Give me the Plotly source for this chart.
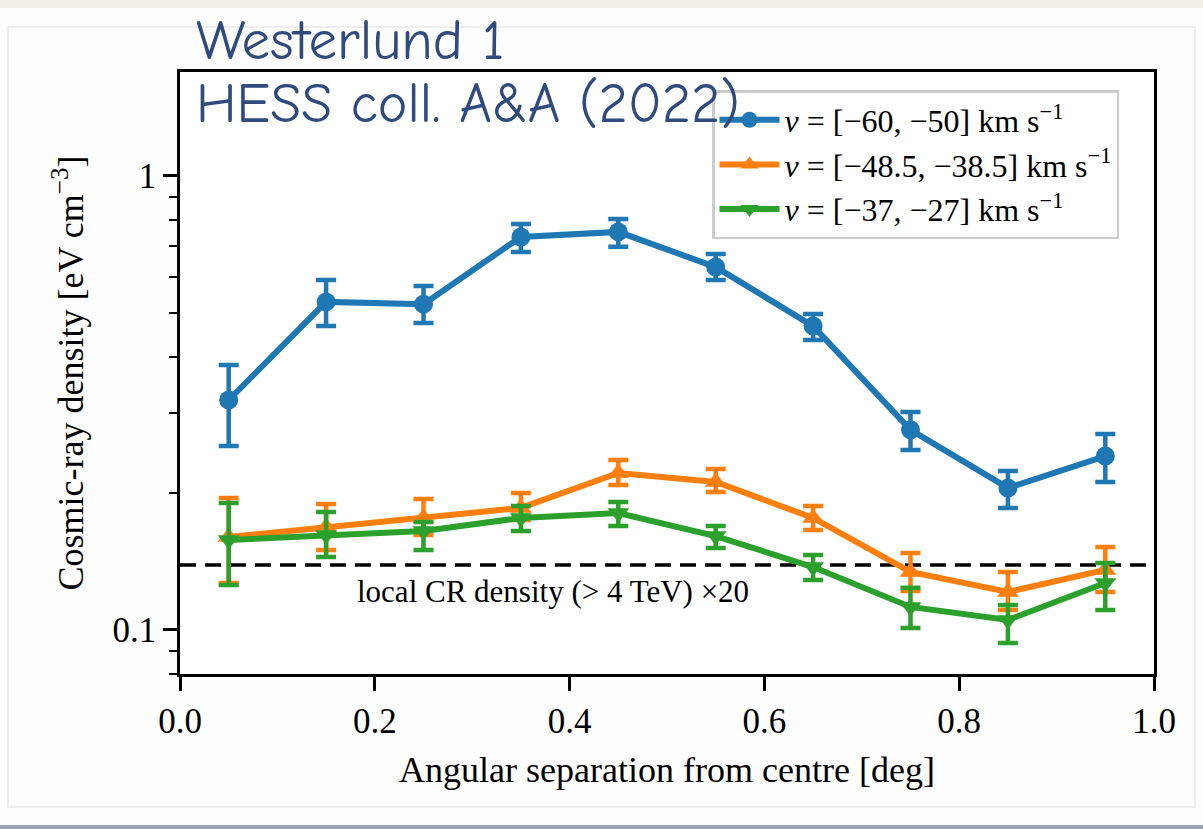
import math
import plotly.graph_objects as go

# Angular bins (deg) and cosmic-ray density per velocity interval
sep = [0.05, 0.15, 0.25, 0.35, 0.45, 0.55, 0.65, 0.75, 0.85, 0.95]

v1_label = "<i>ν</i> = [−60, −50] km s<sup>−1</sup>"
v1_val = [0.321, 0.528, 0.522, 0.734, 0.753, 0.630, 0.467, 0.276, 0.2055, 0.2416]
v1_hi = [0.3835, 0.590, 0.5725, 0.784, 0.804, 0.673, 0.4966, 0.302, 0.2239, 0.2702]
v1_lo = [0.2542, 0.4672, 0.4745, 0.680, 0.698, 0.590, 0.4352, 0.2491, 0.1857, 0.2118]

v2_label = "<i>ν</i> = [−48.5, −38.5] km s<sup>−1</sup>"
v2_val = [0.1602, 0.1686, 0.1765, 0.1857, 0.2217, 0.2118, 0.1765, 0.1342, 0.1213, 0.1356]
v2_hi = [0.1953, 0.1895, 0.1943, 0.2003, 0.2368, 0.2262, 0.1875, 0.1478, 0.1342, 0.1524]
v2_lo = [0.1269, 0.1501, 0.1619, 0.1747, 0.2087, 0.2014, 0.1661, 0.1219, 0.1107, 0.1213]

v3_label = "<i>ν</i> = [−37, −27] km s<sup>−1</sup>"
v3_val = [0.1578, 0.1619, 0.1652, 0.1765, 0.1810, 0.1610, 0.1376, 0.1124, 0.1052, 0.1269]
v3_hi = [0.1905, 0.1819, 0.1729, 0.1875, 0.1914, 0.1695, 0.1463, 0.1238, 0.1135, 0.1404]
v3_lo = [0.1256, 0.1448, 0.1501, 0.1652, 0.1695, 0.1516, 0.1288, 0.1010, 0.0936, 0.1107]

local_cr = 0.139
local_cr_text = "local CR density (> 4 TeV) ×20"
local_cr_text_pos = (0.383, 0.1213)

x_ticks = [0.0, 0.2, 0.4, 0.6, 0.8, 1.0]
x_tick_text = ["0.0", "0.2", "0.4", "0.6", "0.8", "1.0"]
y_ticks = [0.1, 1]
y_tick_text = ["0.1", "1"]
y_minor = [0.08, 0.09, 0.2, 0.3, 0.4, 0.5, 0.6, 0.7, 0.8, 0.9]

SERIF = "Liberation Serif"
HAND = "Comic Neue, Comic Sans MS, Lato, sans-serif"
INK = "#2f4a7c"

# plot-area geometry in pixels
L, R, T, B = 180, 1154, 72, 674
W, H = R - L, B - T


def px(x):
    return (x - L) / W


def py(y):
    return (B - y) / H


series = [
    (v1_label, v1_val, v1_hi, v1_lo, "#1f77b4", "circle", 19),
    (v2_label, v2_val, v2_hi, v2_lo, "#ff7f0e", "triangle-up", 19),
    (v3_label, v3_val, v3_hi, v3_lo, "#2ca02c", "triangle-down", 19),
]

fig = go.Figure()
for i, (name, val, hi, lo, color, symbol, msize) in enumerate(series):
    fig.add_trace(go.Scatter(
        x=sep, y=val, name=name, mode="lines+markers", legendgroup=f"g{i}",
        line=dict(color=color, width=6),
        marker=dict(color=color, symbol=symbol, size=msize, line=dict(width=0)),
        error_y=dict(
            type="data", symmetric=False,
            array=[h - v for h, v in zip(hi, val)],
            arrayminus=[v - l for v, l in zip(val, lo)],
            color=color, thickness=4.5, width=10,
        ),
    ))

# Reference level of the local cosmic-ray density
fig.add_shape(type="line", xref="x", yref="y", x0=0, x1=1,
              y0=local_cr, y1=local_cr,
              line=dict(color="black", width=3.5, dash="16px,9px"), layer="below")
fig.add_annotation(x=local_cr_text_pos[0], y=math.log10(local_cr_text_pos[1]),
                   xref="x", yref="y", text=local_cr_text, showarrow=False,
                   font=dict(family=SERIF, size=31, color="black"))

# Slide card behind the figure
fig.add_shape(type="rect", xref="paper", yref="paper",
              x0=px(8), x1=px(1195), y0=py(807), y1=py(27),
              line=dict(color="#e9e9e9", width=1.5), fillcolor="rgba(0,0,0,0)",
              layer="below")
fig.add_shape(type="rect", xref="paper", yref="paper",
              x0=px(0), x1=px(1203), y0=py(8), y1=py(-10),
              line=dict(width=0), fillcolor="#f3efe6", layer="below")
fig.add_shape(type="rect", xref="paper", yref="paper",
              x0=px(0), x1=px(1203), y0=py(840), y1=py(825),
              line=dict(width=0), fillcolor="#9aa3b5", layer="below")

# Slide headings
fig.add_annotation(x=px(194), y=py(41), xref="paper", yref="paper",
                   text="Westerlund 1", showarrow=False, xanchor="left", yanchor="middle",
                   font=dict(family=HAND, size=57, color=INK))
fig.add_annotation(x=px(194), y=py(104), xref="paper", yref="paper",
                   text="HESS coll. A&A (2022)", showarrow=False, xanchor="left",
                   yanchor="middle", font=dict(family=HAND, size=56, color=INK))

fig.update_layout(
    width=1203, height=829,
    margin=dict(l=L, r=1203 - R, t=T, b=829 - B),
    paper_bgcolor="#fdfdfd", plot_bgcolor="white",
    showlegend=True,
    legend=dict(
        x=px(712), y=py(90), xanchor="left", yanchor="top",
        bgcolor="rgba(255,255,255,0.85)", bordercolor="#cccccc", borderwidth=2.5,
        font=dict(family=SERIF, size=32, color="black"),
        tracegroupgap=0, itemwidth=60,
    ),
    xaxis=dict(
        range=[0, 1], tickmode="array", tickvals=x_ticks, ticktext=x_tick_text,
        ticks="outside", ticklen=14, tickwidth=2.5, tickcolor="black",
        showline=True, linecolor="black", linewidth=2.5, mirror=True,
        showgrid=False, zeroline=False,
        tickfont=dict(family=SERIF, size=35, color="black"),
        title=dict(text="Angular separation from centre [deg]", standoff=18,
                   font=dict(family=SERIF, size=36, color="black")),
    ),
    yaxis=dict(
        type="log", range=[-1.097, 0.229],
        tickmode="array", tickvals=y_ticks, ticktext=y_tick_text,
        ticks="outside", ticklen=14, tickwidth=2.5, tickcolor="black",
        minor=dict(tickmode="array", tickvals=y_minor, ticks="outside",
                   ticklen=8, tickwidth=2, tickcolor="black", showgrid=False),
        showline=True, linecolor="black", linewidth=2.5, mirror=True,
        showgrid=False, zeroline=False,
        tickfont=dict(family=SERIF, size=35, color="black"),
        title=dict(text="Cosmic-ray density [eV cm<sup>−3</sup>]", standoff=18,
                   font=dict(family=SERIF, size=36, color="black")),
    ),
)

fig.write_html("out.html")
